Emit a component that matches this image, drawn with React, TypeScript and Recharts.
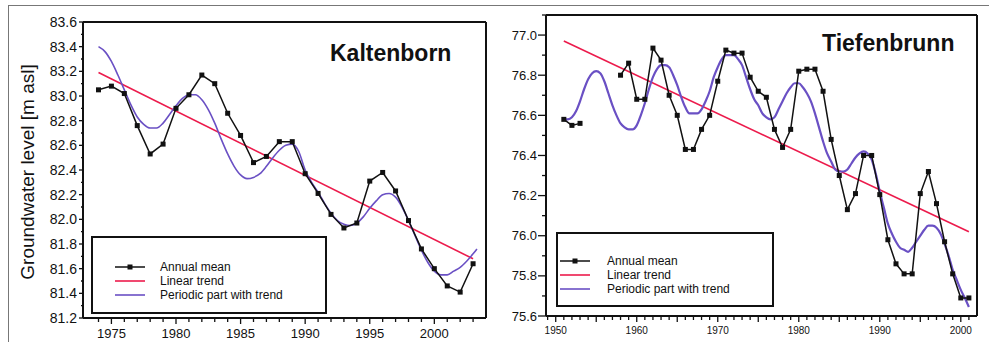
import React from "react";
import { Line, LineChart, ReferenceLine, XAxis, YAxis } from "recharts";

// Kaltenborn
const kbYears = [1974, 1975, 1976, 1977, 1978, 1979, 1980, 1981, 1982, 1983, 1984, 1985, 1986, 1987, 1988, 1989, 1990, 1991, 1992, 1993, 1994, 1995, 1996, 1997, 1998, 1999, 2000, 2001, 2002, 2003];
const kbMean = [83.05, 83.08, 83.02, 82.76, 82.53, 82.61, 82.9, 83.01, 83.17, 83.1, 82.86, 82.68, 82.46, 82.51, 82.63, 82.63, 82.37, 82.21, 82.04, 81.93, 81.97, 82.31, 82.38, 82.23, 81.99, 81.76, 81.6, 81.46, 81.41, 81.64];
const kbTrend: [number, number][] = [[1974, 83.19], [2003, 81.68]];
const kbPeriodic: [number, number][] = [
  [1974, 83.4], [1974.5, 83.36], [1975, 83.28], [1975.5, 83.17], [1976, 83.05], [1976.5, 82.93], [1977, 82.83], [1977.5, 82.77],
  [1978, 82.74], [1978.5, 82.74], [1979, 82.78], [1979.5, 82.85], [1980, 82.92], [1980.5, 82.98], [1981, 83.01], [1981.5, 83.01],
  [1982, 82.97], [1982.5, 82.89], [1983, 82.78], [1983.5, 82.65], [1984, 82.53], [1984.5, 82.43], [1985, 82.36], [1985.5, 82.33],
  [1986, 82.34], [1986.5, 82.37], [1987, 82.43], [1987.5, 82.5], [1988, 82.56], [1988.5, 82.6], [1989, 82.61], [1989.5, 82.55],
  [1990, 82.4], [1990.5, 82.3], [1991, 82.22], [1991.5, 82.13], [1992, 82.05], [1992.5, 81.99], [1993, 81.96], [1993.5, 81.95],
  [1994, 81.97], [1994.5, 82.02], [1995, 82.09], [1995.5, 82.15], [1996, 82.2], [1996.5, 82.21], [1997, 82.18], [1997.5, 82.1],
  [1998, 81.99], [1998.5, 81.87], [1999, 81.75], [1999.5, 81.65], [2000, 81.58], [2000.5, 81.55], [2001, 81.55], [2001.5, 81.58],
  [2002, 81.61], [2002.5, 81.66], [2003, 81.72], [2003.3, 81.76],
];
const kbYTicks = [81.2, 81.4, 81.6, 81.8, 82.0, 82.2, 82.4, 82.6, 82.8, 83.0, 83.2, 83.4, 83.6];
const kbXTicks = [1975, 1980, 1985, 1990, 1995, 2000];

// Tiefenbrunn (no measurements 1954-1957)
const tbYears = [1951, 1952, 1953, 1955, 1958, 1959, 1960, 1961, 1962, 1963, 1964, 1965, 1966, 1967, 1968, 1969, 1970, 1971, 1972, 1973, 1974, 1975, 1976, 1977, 1978, 1979, 1980, 1981, 1982, 1983, 1984, 1985, 1986, 1987, 1988, 1989, 1990, 1991, 1992, 1993, 1994, 1995, 1996, 1997, 1998, 1999, 2000, 2001];
const tbMean = [76.58, 76.55, 76.56, null, 76.8, 76.86, 76.68, 76.68, 76.935, 76.875, 76.7, 76.6, 76.43, 76.43, 76.53, 76.6, 76.77, 76.925, 76.91, 76.91, 76.79, 76.72, 76.69, 76.53, 76.44, 76.53, 76.82, 76.83, 76.83, 76.72, 76.48, 76.3, 76.13, 76.21, 76.4, 76.4, 76.205, 75.98, 75.86, 75.81, 75.81, 76.21, 76.32, 76.16, 75.97, 75.81, 75.69, 75.69];
const tbTrend: [number, number][] = [[1951, 76.97], [2001, 76.02]];
const tbPeriodic: [number, number][] = [
  [1951, 76.58], [1951.5, 76.58], [1952, 76.59], [1952.5, 76.62], [1953, 76.67], [1953.5, 76.73], [1954, 76.78], [1954.5, 76.81],
  [1955, 76.82], [1955.5, 76.81], [1956, 76.77], [1956.5, 76.71], [1957, 76.65], [1957.5, 76.6], [1958, 76.56], [1958.5, 76.54],
  [1959, 76.53], [1959.5, 76.53], [1960, 76.55], [1960.5, 76.6], [1961, 76.66], [1961.5, 76.73], [1962, 76.79], [1962.5, 76.83],
  [1963, 76.85], [1963.5, 76.85], [1964, 76.84], [1964.5, 76.8], [1965, 76.75], [1965.5, 76.69], [1966, 76.64], [1966.5, 76.61],
  [1967, 76.61], [1967.5, 76.61], [1968, 76.63], [1968.5, 76.67], [1969, 76.72], [1969.5, 76.79], [1970, 76.84], [1970.5, 76.88],
  [1971, 76.9], [1971.5, 76.9], [1972, 76.9], [1972.5, 76.88], [1973, 76.85], [1973.5, 76.79], [1974, 76.73], [1974.5, 76.68],
  [1975, 76.65], [1975.5, 76.61], [1976, 76.59], [1976.5, 76.58], [1977, 76.59], [1977.5, 76.63], [1978, 76.67], [1978.5, 76.71],
  [1979, 76.74], [1979.5, 76.76], [1980, 76.76], [1980.5, 76.74], [1981, 76.71], [1981.5, 76.67], [1982, 76.61], [1982.5, 76.54],
  [1983, 76.47], [1983.5, 76.41], [1984, 76.37], [1984.5, 76.33], [1985, 76.32], [1985.5, 76.32], [1986, 76.33], [1986.5, 76.36],
  [1987, 76.39], [1987.5, 76.41], [1988, 76.42], [1988.5, 76.41], [1989, 76.38], [1989.5, 76.31], [1990, 76.22], [1990.5, 76.14],
  [1991, 76.06], [1991.5, 76.01], [1992, 75.97], [1992.5, 75.94], [1993, 75.93], [1993.5, 75.92], [1994, 75.94], [1994.5, 75.97],
  [1995, 76.0], [1995.5, 76.03], [1996, 76.05], [1996.5, 76.05], [1997, 76.04], [1997.5, 76.01], [1998, 75.96], [1998.5, 75.9],
  [1999, 75.83], [1999.5, 75.78], [2000, 75.73], [2000.5, 75.69], [2001, 75.645],
];
const tbYTicks = [75.6, 75.8, 76.0, 76.2, 76.4, 76.6, 76.8, 77.0];
const tbXTicks = [1950, 1960, 1970, 1980, 1990, 2000];

const legendItems = ["Annual mean", "Linear trend", "Periodic part with trend"];

const font = '"Liberation Sans", Arial, Helvetica, sans-serif';
const RED = "#ec1b4c";
const PURPLE = "#6a50c4";
const INK = "#111";

const toRows = (pairs: [number, number][]) => pairs.map(([year, value]) => ({ year, value }));
const zipRows = (years: number[], values: (number | null)[]) => years.map((year, i) => ({ year, value: values[i] }));

function range(from: number, to: number, step: number) {
  const out: number[] = [];
  for (let v = from; v <= to + step / 2; v += step) out.push(Math.round(v * 100) / 100);
  return out;
}

const isIn = (list: number[], v: number) => list.some((t) => Math.abs(t - v) < 1e-6);

function xTick(majors: number[], labels: number[], fontSize: number, gap: number) {
  return (props: any) => {
    const { x, y, payload } = props;
    const major = isIn(majors, payload.value);
    const len = major ? 6 : 4;
    return (
      <g>
        <line stroke={INK} strokeWidth={1.3} x1={x} x2={x} y1={y} y2={y + len} />
        {isIn(labels, payload.value) && (
          <text dominantBaseline="hanging" fill={INK} fontFamily={font} fontSize={fontSize} textAnchor="middle" x={x} y={y + 6 + gap}>
            {payload.value}
          </text>
        )}
      </g>
    );
  };
}

function yTick(majors: number[], fontSize: number, majorLen: number, gap: number) {
  return (props: any) => {
    const { x, y, payload } = props;
    const major = isIn(majors, payload.value);
    const len = major ? majorLen : majorLen / 2;
    return (
      <g>
        <line stroke={INK} strokeWidth={1.3} x1={x} x2={x - len} y1={y} y2={y} />
        {major && (
          <text dominantBaseline="central" fill={INK} fontFamily={font} fontSize={fontSize} textAnchor="end" x={x - majorLen - gap} y={y}>
            {payload.value.toFixed(1)}
          </text>
        )}
      </g>
    );
  };
}

function squareDot(size: number) {
  return (props: any) => {
    const { cx, cy, index } = props;
    if (cx == null || cy == null || props.value == null || (Array.isArray(props.value) && props.value[1] == null)) return <g key={index} />;
    return <rect fill={INK} height={size} key={index} width={size} x={cx - size / 2} y={cy - size / 2} />;
  };
}

function LegendBox({ left, top, width, height, rows, sampleX, textX, markerSize }: { left: number; top: number; width: number; height: number; rows: number[]; sampleX: number; textX: number; markerSize: number }) {
  const colors = [INK, RED, PURPLE];
  return (
    <div style={{ position: "absolute", left, top, width, height, border: "2px solid #111", boxSizing: "border-box", background: "#fff" }}>
      <svg height={height} style={{ position: "absolute", left: -2, top: -2 }} width={width}>
        {legendItems.map((name, i) => {
          const y = rows[i] - top;
          const x0 = sampleX - left;
          return (
            <g key={name}>
              <line stroke={colors[i]} strokeWidth={i === 0 ? 1.5 : 1.6} x1={x0} x2={x0 + 30} y1={y} y2={y} />
              {i === 0 && <rect fill={INK} height={markerSize} width={markerSize} x={x0 + 15 - markerSize / 2} y={y - markerSize / 2} />}
              <text dominantBaseline="central" fill={INK} fontFamily={font} fontSize={12} x={textX - left} y={y}>
                {name}
              </text>
            </g>
          );
        })}
      </svg>
    </div>
  );
}

function Kaltenborn() {
  const yTicksAll = range(81.2, 83.6, 0.1);
  const xTicksAll = range(1974, 2003, 1);
  return (
    <div style={{ position: "absolute", left: 0, top: 0, width: 500, height: 342 }}>
      <LineChart height={342} margin={{ top: 22, right: 14, bottom: 0, left: 0 }} width={500}>
        <XAxis allowDataOverflow axisLine={{ stroke: INK, strokeWidth: 2 }} dataKey="year" domain={[1972.8, 2004]} height={24} interval={0} tick={xTick(kbXTicks, kbXTicks, 13, 4)} tickLine={false} tickMargin={0} tickSize={0} ticks={xTicksAll} type="number" />
        <YAxis allowDataOverflow axisLine={{ stroke: INK, strokeWidth: 2 }} domain={[81.2, 83.6]} interval={0} tick={yTick(kbYTicks, 14, 4, 2)} tickLine={false} tickMargin={0} tickSize={0} ticks={yTicksAll} type="number" width={83} />
        <ReferenceLine stroke={INK} strokeWidth={2} y={83.6} />
        <ReferenceLine stroke={INK} strokeWidth={2} x={2004} />
        <Line data={toRows(kbTrend)} dataKey="value" dot={false} isAnimationActive={false} stroke={RED} strokeWidth={1.6} type="linear" />
        <Line data={toRows(kbPeriodic)} dataKey="value" dot={false} isAnimationActive={false} stroke={PURPLE} strokeWidth={1.6} type="monotone" />
        <Line data={zipRows(kbYears, kbMean)} dataKey="value" dot={squareDot(5)} isAnimationActive={false} stroke={INK} strokeWidth={1.5} type="linear" />
      </LineChart>
      <div style={{ position: "absolute", left: 330, top: 40, fontFamily: font, fontWeight: 700, fontSize: 23, color: INK, whiteSpace: "nowrap", lineHeight: "26px" }}>Kaltenborn</div>
      <div style={{ position: "absolute", left: 28, top: 172, transform: "translate(-50%, -50%) rotate(-90deg)", fontFamily: font, fontSize: 19, color: INK, whiteSpace: "nowrap" }}>Groundwater level [m asl]</div>
      <LegendBox height={78} left={91} markerSize={5} rows={[267, 281, 295]} sampleX={115} textX={160} top={236} width={236} />
    </div>
  );
}

function Tiefenbrunn() {
  const yTicksAll = range(75.6, 77.1, 0.1);
  const xTicksAll = range(1949, 2001, 1);
  const fives = range(1950, 2000, 5);
  return (
    <div style={{ position: "absolute", left: 490, top: 0, width: 499, height: 342 }}>
      <LineChart height={342} margin={{ top: 15, right: 12, bottom: 0, left: 0 }} width={499}>
        <XAxis allowDataOverflow axisLine={{ stroke: INK, strokeWidth: 2 }} dataKey="year" domain={[1948.8, 2002]} height={26} interval={0} tick={xTick(fives, tbXTicks, 10, 5)} tickLine={false} tickMargin={0} tickSize={0} ticks={xTicksAll} type="number" />
        <YAxis allowDataOverflow axisLine={{ stroke: INK, strokeWidth: 2 }} domain={[75.6, 77.1]} interval={0} tick={yTick(tbYTicks, 13, 8, 1)} tickLine={false} tickMargin={0} tickSize={0} ticks={yTicksAll} type="number" width={56} />
        <ReferenceLine stroke={INK} strokeWidth={2} y={77.1} />
        <ReferenceLine stroke={INK} strokeWidth={2} x={2002} />
        <Line data={toRows(tbTrend)} dataKey="value" dot={false} isAnimationActive={false} stroke={RED} strokeWidth={1.6} type="linear" />
        <Line data={toRows(tbPeriodic)} dataKey="value" dot={false} isAnimationActive={false} stroke={PURPLE} strokeWidth={2.2} type="monotone" />
        <Line connectNulls={false} data={zipRows(tbYears, tbMean)} dataKey="value" dot={squareDot(5)} isAnimationActive={false} stroke={INK} strokeWidth={1.5} type="linear" />
      </LineChart>
      <div style={{ position: "absolute", left: 332, top: 30, fontFamily: font, fontWeight: 700, fontSize: 23, color: INK, whiteSpace: "nowrap", lineHeight: "26px" }}>Tiefenbrunn</div>
      <LegendBox height={75} left={66} markerSize={5} rows={[261, 275, 289]} sampleX={70} textX={117} top={232} width={218} />
    </div>
  );
}

export default function App() {
  return (
    <div style={{ position: "absolute", left: 0, top: 0, width: 989, height: 342, background: "#fff", overflow: "hidden" }}>
      <div style={{ position: "absolute", left: 8, top: 5, right: 0, bottom: -2, borderTop: "1.5px solid #777", borderLeft: "1.5px solid #777" }} />
      <Kaltenborn />
      <Tiefenbrunn />
    </div>
  );
}
